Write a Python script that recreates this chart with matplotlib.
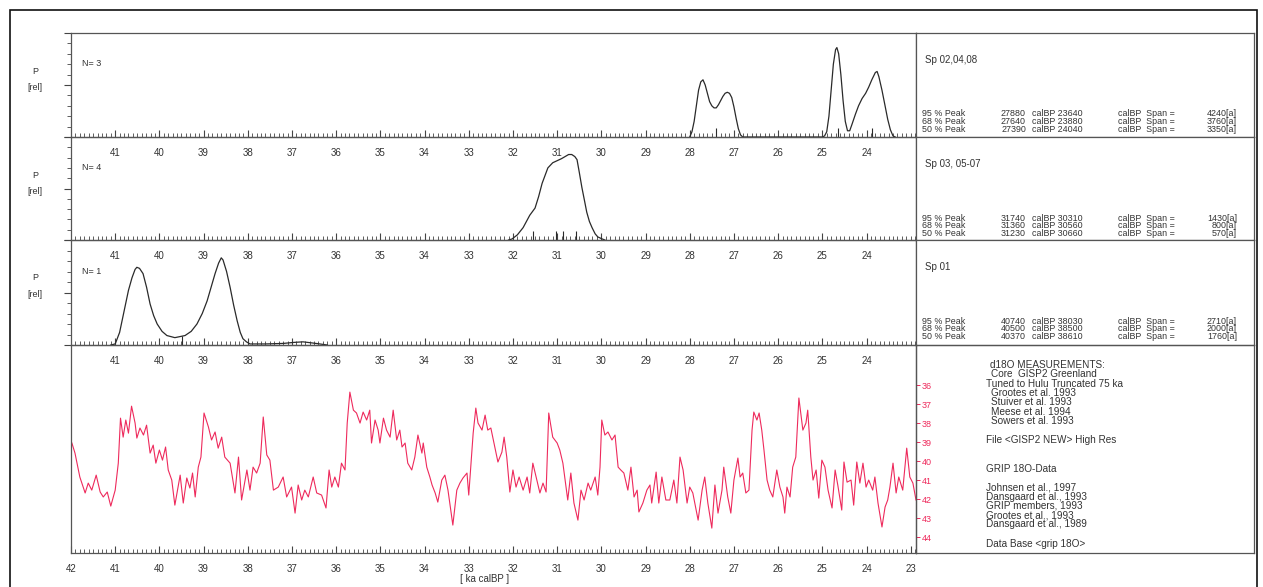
import matplotlib.pyplot as plt
from matplotlib.patches import Rectangle
from matplotlib.ticker import FixedLocator, MultipleLocator, NullFormatter

plt.rcParams['font.family'] = ['Liberation Sans', 'DejaVu Sans']

# ---- data (ka calBP) ----
x_old, x_young = 42.0, 22.88

# panel 1 : Sp 02,04,08  (N=3)
p1_age = [28.00, 27.95, 27.90, 27.85, 27.80, 27.75, 27.70, 27.65, 27.60, 27.55, 27.50,
          27.45, 27.40, 27.35, 27.30, 27.25, 27.20, 27.15, 27.10, 27.05, 27.00, 26.95,
          26.90, 26.85, 26.80, 25.00, 24.95, 24.90, 24.85, 24.80, 24.75, 24.70, 24.67,
          24.63, 24.58, 24.53, 24.48, 24.43, 24.38, 24.33, 24.25, 24.18, 24.10, 24.02,
          23.95, 23.88, 23.80, 23.76, 23.72, 23.65, 23.58, 23.52, 23.46, 23.40, 23.35]
p1_prob = [0.00, 0.05, 0.15, 0.30, 0.45, 0.53, 0.55, 0.50, 0.42, 0.34, 0.30,
           0.28, 0.28, 0.31, 0.35, 0.39, 0.42, 0.43, 0.42, 0.38, 0.29, 0.18,
           0.08, 0.02, 0.00, 0.00, 0.01, 0.05, 0.20, 0.45, 0.70, 0.84, 0.86,
           0.80, 0.60, 0.35, 0.15, 0.06, 0.06, 0.12, 0.22, 0.30, 0.37, 0.42,
           0.48, 0.55, 0.62, 0.63, 0.58, 0.45, 0.30, 0.17, 0.07, 0.01, 0.00]
p1_dates = [27.41, 24.65, 23.88]

# panel 2 : Sp 03, 05-07  (N=4)
p2_age = [32.10, 32.02, 31.90, 31.77, 31.62, 31.50, 31.42, 31.34, 31.21, 31.10, 31.00,
          30.90, 30.82, 30.74, 30.67, 30.60, 30.55, 30.50, 30.44, 30.38, 30.33, 30.27,
          30.21, 30.14, 30.08, 29.98, 29.92]
p2_prob = [0.00, 0.01, 0.05, 0.12, 0.24, 0.31, 0.42, 0.55, 0.70, 0.75, 0.77,
           0.79, 0.81, 0.83, 0.83, 0.81, 0.78, 0.66, 0.51, 0.38, 0.27, 0.18,
           0.12, 0.06, 0.03, 0.01, 0.00]
p2_dates = [31.55, 31.02, 30.86, 30.57]

# panel 3 : Sp 01  (N=1)
p3_age = [41.10, 41.00, 40.90, 40.78, 40.70, 40.62, 40.55, 40.51, 40.45, 40.37, 40.29,
          40.21, 40.13, 40.05, 39.94, 39.83, 39.65, 39.42, 39.28, 39.15, 39.03, 38.92,
          38.83, 38.74, 38.66, 38.60, 38.56, 38.48, 38.40, 38.32, 38.24, 38.17, 38.11,
          38.03, 37.95, 37.60, 37.20, 36.95, 36.75, 36.55, 36.37, 36.20]
p3_prob = [0.00, 0.01, 0.12, 0.36, 0.52, 0.64, 0.72, 0.74, 0.73, 0.68, 0.55,
           0.39, 0.28, 0.20, 0.13, 0.09, 0.07, 0.09, 0.13, 0.20, 0.30, 0.42,
           0.55, 0.68, 0.78, 0.83, 0.81, 0.70, 0.55, 0.38, 0.23, 0.12, 0.06,
           0.03, 0.01, 0.01, 0.015, 0.025, 0.03, 0.02, 0.01, 0.00]
p3_dates = [39.49]

# GISP2 d18O
d18o_age = [41.98, 41.91, 41.80, 41.68, 41.61, 41.53, 41.43, 41.34, 41.27, 41.18, 41.10, 41.00,
            40.93, 40.88, 40.82, 40.76, 40.70, 40.63, 40.55, 40.51, 40.44, 40.36, 40.29, 40.21,
            40.14, 40.08, 40.00, 39.93, 39.86, 39.80, 39.72, 39.65, 39.53, 39.46, 39.38, 39.31,
            39.25, 39.19, 39.12, 39.06, 38.99, 38.89, 38.82, 38.74, 38.67, 38.59, 38.52, 38.40,
            38.29, 38.21, 38.14, 38.02, 37.95, 37.88, 37.80, 37.72, 37.65, 37.57, 37.50, 37.42,
            37.31, 37.20, 37.12, 37.01, 36.93, 36.86, 36.78, 36.71, 36.63, 36.52, 36.44, 36.33,
            36.23, 36.16, 36.10, 36.03, 35.95, 35.88, 35.80, 35.75, 35.69, 35.61, 35.54, 35.46,
            35.39, 35.31, 35.24, 35.20, 35.12, 35.05, 35.01, 34.93, 34.86, 34.78, 34.71, 34.63,
            34.56, 34.51, 34.44, 34.38, 34.29, 34.22, 34.15, 34.06, 34.03, 33.95, 33.88, 33.83,
            33.76, 33.70, 33.61, 33.54, 33.47, 33.36, 33.27, 33.20, 33.13, 33.04, 33.00, 32.90,
            32.84, 32.79, 32.70, 32.63, 32.57, 32.50, 32.43, 32.34, 32.25, 32.20, 32.14, 32.07,
            32.00, 31.93, 31.86, 31.77, 31.68, 31.62, 31.55, 31.46, 31.39, 31.32, 31.25, 31.19,
            31.10, 31.00, 30.94, 30.87, 30.76, 30.69, 30.62, 30.53, 30.46, 30.39, 30.30, 30.24,
            30.14, 30.08, 30.03, 29.99, 29.92, 29.85, 29.76, 29.69, 29.62, 29.56, 29.49, 29.40,
            29.33, 29.26, 29.19, 29.15, 29.06, 28.97, 28.90, 28.86, 28.76, 28.70, 28.63, 28.54,
            28.45, 28.36, 28.29, 28.22, 28.15, 28.06, 28.00, 27.93, 27.81, 27.72, 27.66, 27.59,
            27.50, 27.43, 27.36, 27.27, 27.23, 27.14, 27.07, 27.00, 26.91, 26.86, 26.80, 26.73,
            26.66, 26.59, 26.55, 26.48, 26.43, 26.37, 26.32, 26.25, 26.19, 26.12, 26.03, 25.96,
            25.89, 25.85, 25.80, 25.73, 25.67, 25.60, 25.53, 25.44, 25.37, 25.33, 25.26, 25.21,
            25.14, 25.08, 25.01, 24.94, 24.87, 24.78, 24.71, 24.65, 24.56, 24.51, 24.44, 24.35,
            24.29, 24.22, 24.15, 24.08, 24.01, 23.95, 23.86, 23.81, 23.74, 23.65, 23.58, 23.52,
            23.47, 23.40, 23.33, 23.27, 23.18, 23.09, 23.02, 22.95, 22.88]
d18o_val = [-39.05, -39.58, -40.84, -41.68, -41.16, -41.53, -40.74, -41.63, -41.89, -41.63, -42.37, -41.53,
            -40.11, -37.74, -38.74, -37.84, -38.53, -37.11, -38.00, -38.79, -38.26, -38.63, -38.11, -39.58,
            -39.16, -40.11, -39.42, -39.95, -39.26, -40.47, -41.00, -42.32, -40.74, -42.21, -40.89, -41.42,
            -40.63, -41.89, -40.32, -39.79, -37.47, -38.21, -38.89, -38.47, -39.32, -38.74, -39.79, -40.11,
            -41.68, -39.79, -42.05, -40.47, -41.53, -40.32, -40.63, -40.11, -37.68, -39.68, -39.95, -41.53,
            -41.37, -40.84, -41.89, -41.37, -42.74, -41.26, -42.05, -41.53, -41.89, -40.84, -41.68, -41.79,
            -42.47, -40.47, -41.37, -40.84, -41.37, -40.11, -40.47, -38.00, -36.37, -37.32, -37.47, -38.00,
            -37.42, -37.84, -37.32, -39.05, -37.84, -38.37, -39.05, -37.74, -38.37, -38.74, -37.32, -38.89,
            -38.37, -39.26, -39.05, -40.11, -40.47, -39.79, -38.63, -39.58, -39.05, -40.32, -40.84, -41.26,
            -41.68, -42.16, -41.00, -40.74, -41.53, -43.37, -41.53, -41.16, -40.89, -40.63, -41.79, -38.53,
            -37.21, -38.00, -38.37, -37.58, -38.37, -38.26, -39.05, -40.05, -39.53, -38.74, -39.79, -41.63,
            -40.47, -41.37, -40.84, -41.53, -40.84, -41.68, -40.11, -41.00, -41.68, -41.16, -41.63, -37.47,
            -38.74, -39.05, -39.42, -40.11, -42.05, -40.63, -42.21, -43.11, -41.53, -42.05, -41.16, -41.53,
            -40.84, -41.79, -40.32, -37.84, -38.63, -38.47, -38.89, -38.63, -40.32, -40.47, -40.63, -41.53,
            -40.32, -41.89, -41.53, -42.68, -42.21, -41.53, -41.26, -42.21, -40.58, -42.21, -40.84, -42.05,
            -42.05, -41.00, -42.21, -39.79, -40.47, -42.21, -41.37, -41.68, -43.11, -41.53, -40.84, -42.21,
            -43.53, -41.26, -42.74, -41.53, -40.32, -41.89, -42.74, -41.00, -39.84, -40.84, -40.63, -41.68,
            -41.53, -38.37, -37.42, -37.84, -37.47, -38.37, -39.42, -41.00, -41.53, -41.89, -40.47, -41.37,
            -41.89, -42.74, -41.37, -41.89, -40.32, -39.79, -36.68, -38.37, -38.00, -37.32, -39.79, -41.00,
            -40.47, -41.95, -39.95, -40.32, -41.53, -42.47, -40.47, -41.26, -42.58, -40.05, -41.11, -41.00,
            -42.32, -40.05, -41.16, -40.11, -41.37, -41.00, -41.53, -40.84, -42.21, -43.47, -42.42, -42.05,
            -41.37, -40.11, -41.68, -40.84, -41.53, -39.32, -40.84, -41.16, -42.05]
d18o_ticks = [-36, -37, -38, -39, -40, -41, -42, -43, -44]

panel_names = ["Sp 02,04,08", "Sp 03, 05-07", "Sp 01"]
panel_n = ["N= 3", "N= 4", "N= 1"]
# level, start, end, span
stats = [
    [("95", 27880, 23640, 4240), ("68", 27640, 23880, 3760), ("50", 27390, 24040, 3350)],
    [("95", 31740, 30310, 1430), ("68", 31360, 30560, 800), ("50", 31230, 30660, 570)],
    [("95", 40740, 38030, 2710), ("68", 40500, 38500, 2000), ("50", 40370, 38610, 1760)],
]
info_lines = [
    ("d18O MEASUREMENTS:", 990, 365), ("Core  GISP2 Greenland", 991, 374),
    ("Tuned to Hulu Truncated 75 ka", 986, 384), ("Grootes et al. 1993", 991, 393),
    ("Stuiver et al. 1993", 991, 402), ("Meese et al. 1994", 991, 412),
    ("Sowers et al. 1993", 991, 421), ("File <GISP2 NEW> High Res", 986, 440),
    ("GRIP 18O-Data", 986, 469), ("Johnsen et al., 1997", 986, 488),
    ("Dansgaard et al., 1993", 986, 497), ("GRIP members, 1993", 986, 506),
    ("Grootes et al., 1993", 986, 515), ("Dansgaard et al., 1989", 986, 524),
    ("Data Base <grip 18O>", 986, 544),
]

W, H = 1263, 587
txt_col = '#333333'
red = '#ee2a5c'

fig = plt.figure(figsize=(W / 100, H / 100), dpi=100)


def box(x0, y0, x1, y1):
    return [x0 / W, 1 - y1 / H, (x1 - x0) / W, (y1 - y0) / H]


def ftext(x, y, s, **kw):
    kw.setdefault('fontsize', 6.5)
    kw.setdefault('color', txt_col)
    kw.setdefault('va', 'center')
    fig.text(x / W, 1 - y / H, s, **kw)


def style_frame(ax):
    for sp in ax.spines.values():
        sp.set_color('#555555')
        sp.set_linewidth(0.9)


rows = [(33, 137), (137, 240), (240, 345), (345, 553)]
curves = [(p1_age, p1_prob, p1_dates), (p2_age, p2_prob, p2_dates), (p3_age, p3_prob, p3_dates)]

for i, (age, prob, dates) in enumerate(curves):
    y0, y1 = rows[i]
    ax = fig.add_axes(box(71, y0, 916, y1))
    ax.plot(age, prob, color='#2a2a2a', lw=0.9)
    ax.vlines(dates, 0, 0.09, color='#2a2a2a', lw=0.8)
    ax.set_xlim(x_old, x_young)
    ax.set_ylim(0, 1)
    ax.xaxis.set_major_locator(FixedLocator(range(24, 42)))
    ax.xaxis.set_minor_locator(MultipleLocator(0.1))
    ax.yaxis.set_major_locator(MultipleLocator(0.5))
    ax.yaxis.set_minor_locator(MultipleLocator(0.1))
    ax.yaxis.set_major_formatter(NullFormatter())
    ax.tick_params(axis='x', which='major', direction='in', length=5, width=0.8,
                   labelsize=7, labelcolor=txt_col, color='#444444', pad=8)
    ax.tick_params(axis='x', which='minor', direction='in', length=3, width=0.6, color='#444444')
    ax.tick_params(axis='y', which='major', direction='out', length=5, width=0.8, color='#444444')
    ax.tick_params(axis='y', which='minor', direction='out', length=3, width=0.6, color='#444444')
    style_frame(ax)
    ax.patch.set_alpha(0)

    axr = fig.add_axes(box(916, y0, 1254, y1))
    axr.set_xticks([])
    axr.set_yticks([])
    style_frame(axr)

    ftext(82, y0 + 31, panel_n[i])
    ftext(35, y0 + 38, "P", ha='center')
    ftext(35, y0 + 55, "[rel]", ha='center')
    ftext(925, y0 + 27, panel_names[i], fontsize=7)
    for k, (lev, a, b, span) in enumerate(stats[i]):
        yy = y0 + 81 + k * 7.6
        ftext(922, yy, f"{lev} % Peak", fontsize=6.4)
        ftext(1026, yy, f"{a}", fontsize=6.4, ha='right')
        ftext(1032, yy, f"calBP {b}", fontsize=6.4)
        ftext(1118, yy, "calBP  Span =", fontsize=6.4)
        ftext(1237, yy, f"{span}[a]", fontsize=6.4, ha='right')

# d18O panel
y0, y1 = rows[3]
ax4 = fig.add_axes(box(71, y0, 916, y1))
ax4.plot(d18o_age, d18o_val, color=red, lw=0.8)
ax4.set_xlim(x_old, x_young)
ax4.set_ylim(-44.84, -33.89)
ax4.xaxis.set_major_locator(FixedLocator(range(23, 43)))
ax4.xaxis.set_minor_locator(MultipleLocator(0.1))
ax4.tick_params(axis='x', which='major', direction='in', length=5, width=0.8,
                labelsize=7, labelcolor=txt_col, color='#444444', pad=8)
ax4.tick_params(axis='x', which='minor', direction='in', length=3, width=0.6, color='#444444')
ax4.yaxis.tick_right()
ax4.set_yticks(d18o_ticks)
ax4.set_yticklabels([f"{abs(v)}" for v in d18o_ticks])
ax4.tick_params(axis='y', direction='out', length=3, width=0.7, colors=red, labelsize=6.5, pad=1)
ax4.set_xlabel("[ ka calBP ]", fontsize=7, color=txt_col)
ax4.xaxis.set_label_coords((485 - 71) / (916 - 71), -0.10)
style_frame(ax4)
ax4.patch.set_alpha(0)

axr = fig.add_axes(box(916, y0, 1254, y1))
axr.set_xticks([])
axr.set_yticks([])
axr.patch.set_alpha(0)
style_frame(axr)
for s, x, y in info_lines:
    ftext(x, y, s, fontsize=7.2)

# outer frame
fig.add_artist(Rectangle((10 / W, -0.05), (1257 - 10) / W, 1 - 10 / H + 0.05,
                         transform=fig.transFigure, fill=False, lw=1.2, ec='#111111'))

fig.savefig("out.png", dpi=100)
